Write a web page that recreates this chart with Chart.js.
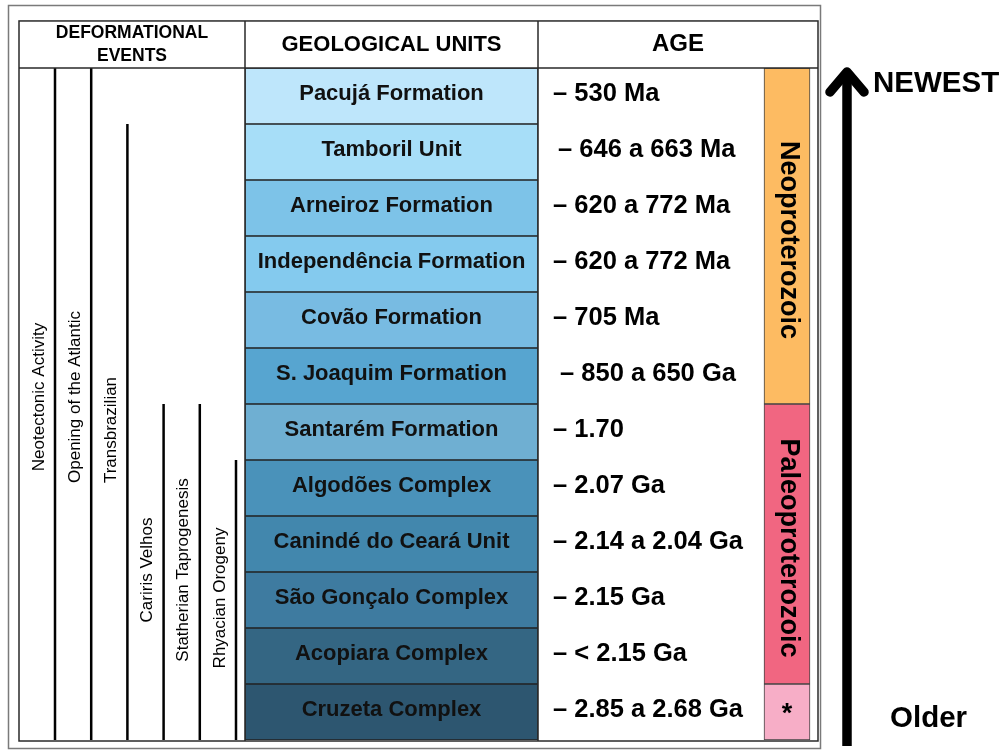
<!DOCTYPE html>
<html>
<head>
<meta charset="utf-8">
<script src="https://cdn.jsdelivr.net/npm/chart.js@4/dist/chart.umd.min.js"></script>
<style>
  body { margin: 0; background: #fff; }
  #wrap { width: 1008px; height: 754px; position: relative; }
</style>
</head>
<body>
<div id="wrap"><canvas id="chart"></canvas></div>
<script>
// rows, top = newest
const units = ['Pacujá Formation', 'Tamboril Unit', 'Arneiroz Formation', 'Independência Formation',
  'Covão Formation', 'S. Joaquim Formation', 'Santarém Formation', 'Algodões Complex',
  'Canindé do Ceará Unit', 'São Gonçalo Complex', 'Acopiara Complex', 'Cruzeta Complex'];
const ages = ['– 530 Ma', '\u2009– 646 a 663 Ma', '– 620 a 772 Ma', '– 620 a 772 Ma', '– 705 Ma',
  ' – 850 a 650 Ga', '– 1.70', '– 2.07 Ga', '– 2.14 a 2.04 Ga', '– 2.15 Ga', '– < 2.15 Ga', '– 2.85 a 2.68 Ga'];
const unitColors = ['#BEE6FB', '#A7DEF8', '#7DC3E8', '#84CAEE', '#78BBE2', '#57A5D0',
  '#6FAFD2', '#4A92BA', '#4287AD', '#3E7BA0', '#346683', '#2D5670'];

const events = ['Neotectonic Activity', 'Opening of the Atlantic', 'Transbrazilian',
  'Cariris Velhos', 'Statherian Taprogenesis', 'Rhyacian Orogeny'];
const eventStart = [0, 0, 1, 6, 6, 7];
const eventEnd = [12, 12, 12, 12, 12, 12];

const eras = ['Neoproterozoic', 'Paleoproterozoic', '*'];
const eraStart = [0, 6, 11];
const eraEnd = [6, 11, 12];
const eraColors = ['#FDBB62', '#F16681', '#F7AEC7'];

// layout (x units = px from table left edge)
const X = { unitsL: 226, unitsR: 519, ageText: 534, tableR: 799, era: 768, arrow: 828, ev0: 36, evStep: 36.2 };
const HEADER = -0.84; // header top, in rows
const FONT = "'Liberation Sans', Arial, sans-serif";

const unitSet = {
  type: 'bar',
  indexAxis: 'y',
  data: units.map((u, i) => ({ x: [X.unitsL, X.unitsR], y: i + 0.5 })),
  backgroundColor: unitColors,
  borderColor: '#222',
  borderWidth: 1,
  borderSkipped: false,
  grouped: false,
  barPercentage: 1,
  categoryPercentage: 1,
};

const eraSet = {
  type: 'bar',
  indexAxis: 'x',
  yAxisID: 'yEra',
  data: eras.map((e, i) => ({ x: X.era, y: [eraStart[i], eraEnd[i]] })),
  backgroundColor: eraColors,
  borderColor: '#444',
  borderWidth: 1,
  borderSkipped: false,
  grouped: false,
  barPercentage: 1,
  categoryPercentage: 1,
  maxBarThickness: 46,
};

const eventSets = events.map((e, i) => ({
  type: 'line',
  data: [{ x: X.ev0 + i * X.evStep, y: eventStart[i] }, { x: X.ev0 + i * X.evStep, y: eventEnd[i] }],
  borderColor: '#000',
  borderWidth: 2.5,
  pointRadius: 0,
  fill: false,
}));

const tablePlugin = {
  id: 'table',
  afterDatasetsDraw(chart) {
    const ctx = chart.ctx;
    const xs = chart.scales.x, ys = chart.scales.y;
    const px = v => xs.getPixelForValue(v);
    const py = v => ys.getPixelForValue(v);
    const top = py(HEADER), hb = py(0), bot = py(12) + 1;
    const L = px(0), R = px(X.tableR);
    ctx.save();

    // outer frame
    ctx.strokeStyle = '#7a7a7a';
    ctx.lineWidth = 1.5;
    ctx.strokeRect(8.5, 5.5, R - 6, bot - 5 + 7);

    // table grid
    ctx.strokeStyle = '#2a2a2a';
    ctx.lineWidth = 1.5;
    ctx.strokeRect(L, top, R - L, bot - top);
    ctx.beginPath();
    ctx.moveTo(L, hb); ctx.lineTo(R, hb);
    ctx.moveTo(px(X.unitsL), top); ctx.lineTo(px(X.unitsL), bot);
    ctx.moveTo(px(X.unitsR), top); ctx.lineTo(px(X.unitsR), bot);
    ctx.stroke();

    // header
    ctx.fillStyle = '#000';
    ctx.textAlign = 'center';
    ctx.textBaseline = 'middle';
    ctx.font = 'bold 17.5px ' + FONT;
    const ec = (L + px(X.unitsL)) / 2;
    ctx.fillText('DEFORMATIONAL', ec, top + 12);
    ctx.fillText('EVENTS', ec, top + 35);
    ctx.font = 'bold 22px ' + FONT;
    ctx.fillText('GEOLOGICAL UNITS', (px(X.unitsL) + px(X.unitsR)) / 2, (top + hb) / 2);
    ctx.font = 'bold 24px ' + FONT;
    ctx.fillText('AGE', (px(X.unitsR) + R) / 2, (top + hb) / 2);

    // unit names and ages
    units.forEach((u, i) => {
      const yc = py(i + 0.5) - 2;
      ctx.textAlign = 'center';
      ctx.font = 'bold 22px ' + FONT;
      ctx.fillStyle = '#111';
      ctx.fillText(u, (px(X.unitsL) + px(X.unitsR)) / 2, yc);
      ctx.textAlign = 'left';
      ctx.font = 'bold 25.5px ' + FONT;
      ctx.fillStyle = '#000';
      ctx.fillText(ages[i], px(X.ageText), yc);
    });

    // event names
    ctx.font = '17px ' + FONT;
    ctx.textAlign = 'center';
    events.forEach((e, i) => {
      const x = px(X.ev0 + i * X.evStep) - 16;
      const y = (py(eventStart[i]) + py(eventEnd[i])) / 2 - (eventStart[i] === 0 ? 7 : 2);
      ctx.save();
      ctx.translate(x, y);
      ctx.rotate(-Math.PI / 2);
      ctx.fillText(e, 0, 0);
      ctx.restore();
    });

    // era names
    const ey = chart.scales.yEra;
    ctx.font = 'bold 27px ' + FONT;
    eras.forEach((e, i) => {
      const y = (ey.getPixelForValue(eraStart[i]) + ey.getPixelForValue(eraEnd[i])) / 2;
      ctx.save();
      ctx.translate(px(X.era), y);
      if (e.length > 1) ctx.rotate(Math.PI / 2);
      ctx.fillText(e, e.length > 1 ? 4 : 0, e.length > 1 ? -1 : 3);
      ctx.restore();
    });

    // time arrow
    const ax = px(X.arrow);
    ctx.strokeStyle = '#000';
    ctx.lineWidth = 9.5;
    ctx.lineCap = 'butt';
    ctx.beginPath();
    ctx.moveTo(ax, bot + 5); ctx.lineTo(ax, hb + 6);
    ctx.stroke();
    ctx.lineCap = 'round';
    ctx.lineJoin = 'round';
    ctx.beginPath();
    ctx.moveTo(ax - 17, hb + 24); ctx.lineTo(ax, hb + 4); ctx.lineTo(ax + 17, hb + 24);
    ctx.stroke();

    ctx.font = 'bold 29.5px ' + FONT;
    ctx.textAlign = 'left';
    ctx.fillText('NEWEST', ax + 26, hb + 16);
    ctx.fillText('Older', ax + 43, py(12) - 21);
    ctx.restore();
  }
};

new Chart(document.getElementById('chart'), {
  type: 'bar',
  data: { datasets: [unitSet, eraSet, ...eventSets] },
  options: {
    responsive: true,
    maintainAspectRatio: false,
    animation: false,
    layout: { padding: { left: 19, right: 8, top: 68, bottom: 14 } },
    plugins: { legend: { display: false }, tooltip: { enabled: false } },
    scales: {
      x: { type: 'linear', min: 0, max: 981, offset: false, display: false, grid: { offset: false } },
      y: { type: 'linear', min: 0, max: 12, reverse: true, offset: false, display: false },
      yEra: { type: 'linear', axis: 'y', min: 0, max: 12, reverse: true, offset: false, display: false },
    },
  },
  plugins: [tablePlugin],
});
</script>
</body>
</html>
